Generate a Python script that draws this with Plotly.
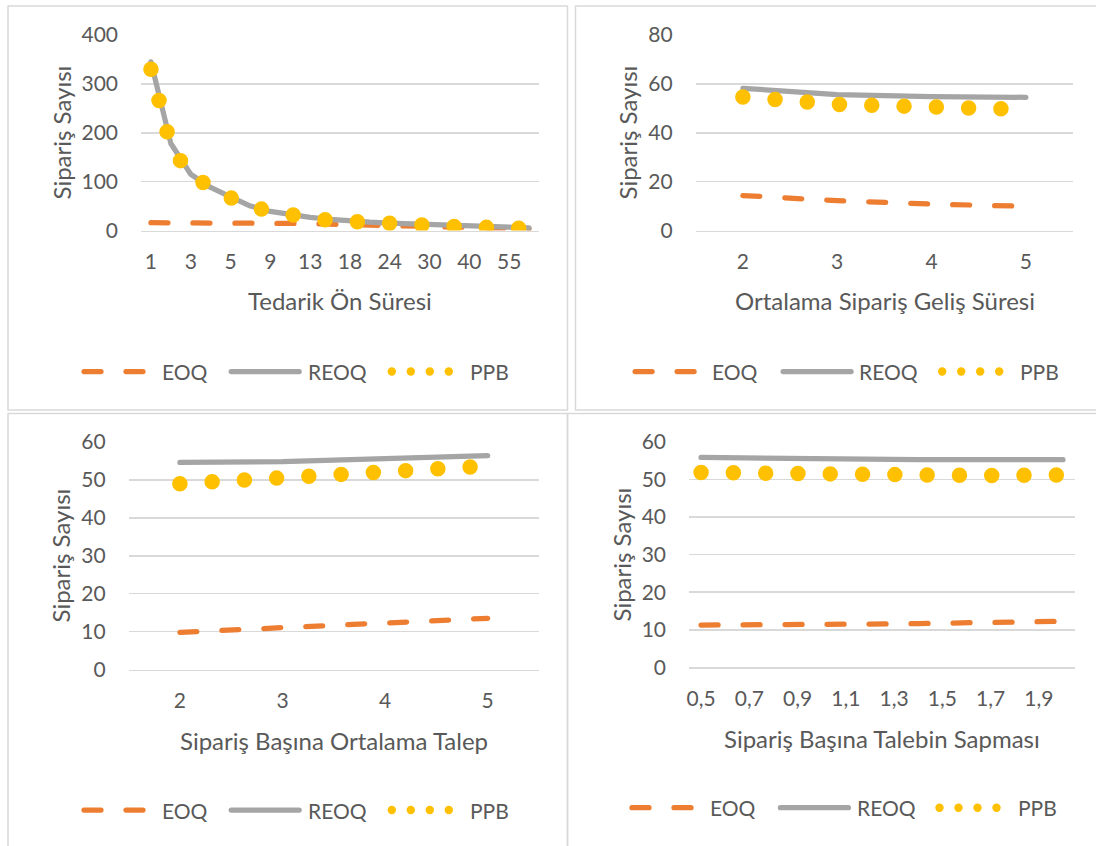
import plotly.graph_objects as go

W, H = 1096, 846

# ---------------- data ----------------
# Panel 1: Tedarik Ön Süresi
lead_time = ["1", "2", "3", "4", "5", "7", "9", "11", "13", "15", "18", "21",
             "24", "27", "30", "35", "40", "45", "55", "60"]
lead_ticks = ["1", "3", "5", "9", "13", "18", "24", "30", "40", "55"]
eoq_1 = [16, 16, 16, 16, 16, 16, 15.8, 15.2, 14.2, 13, 12, 10.5, 9.5, 8.5,
         7.5, 6.5, 5.5, 5, 4, 3.5]
reoq_1 = [345, 178, 115, 88, 69, 50, 39, 32, 27, 23, 19, 17, 15, 13.5, 12,
          10, 9, 8, 6.5, 5.5]
ppb_1 = [330, 172, 112, 85, 67, 48, 38, 30, 25, 21, 17.5, 15, 13.5, 12, 10.5,
         8.5, 7.5, 6.5, 5, 4]

# Panel 2: Ortalama Sipariş Geliş Süresi
arrival = ["2", "3", "4", "5"]
eoq_2 = [14.3, 12.2, 10.8, 9.9]
reoq_2 = [58.2, 55.6, 54.8, 54.5]
ppb_2 = [54.6, 51.6, 50.6, 49.5]

# Panel 3: Sipariş Başına Ortalama Talep
demand = ["2", "3", "4", "5"]
eoq_3 = [9.8, 11.0, 12.3, 13.5]
reoq_3 = [54.6, 54.8, 55.6, 56.4]
ppb_3 = [49.0, 50.6, 52.2, 53.7]

# Panel 4: Sipariş Başına Talebin Sapması
deviation = ["0,5", "0,6", "0,7", "0,8", "0,9", "1", "1,1", "1,2", "1,3",
             "1,4", "1,5", "1,6", "1,7", "1,8", "1,9", "2"]
dev_ticks = ["0,5", "0,7", "0,9", "1,1", "1,3", "1,5", "1,7", "1,9"]
eoq_4 = [11.25, 11.25, 11.25, 11.25, 11.3, 11.35, 11.4, 11.5, 11.55, 11.65,
         11.75, 11.85, 11.95, 12.05, 12.15, 12.25]
reoq_4 = [55.9, 55.8, 55.7, 55.6, 55.5, 55.4, 55.35, 55.3, 55.3, 55.3, 55.3,
          55.3, 55.3, 55.3, 55.3, 55.3]
ppb_4 = [51.9, 51.75, 51.55, 51.4, 51.3, 51.3, 51.25, 51.2, 51.15, 51.15,
         51.15, 51.1, 51.1, 51.15, 51.2, 51.2]

series_names = ["EOQ", "REOQ", "PPB"]
y_title = "Sipariş Sayısı"
x_titles = ["Tedarik Ön Süresi", "Ortalama Sipariş Geliş Süresi",
            "Sipariş Başına Ortalama Talep", "Sipariş Başına Talebin Sapması"]

# ---------------- style ----------------
FONT = "Lato, 'Open Sans', sans-serif"
TXT = "#595959"
GRID = "#D9D9D9"
C_EOQ, C_REOQ, C_PPB = "#ED7D31", "#A5A5A5", "#FFC000"
LW = 5.25
EOQ_DASH = "17px,25px"
PPB_W = 15.5
PPB_DASH = "0px,32.3px"
TICK_SIZE = 21


def px(x):
    return x / W


def py(y):
    return 1 - y / H


# plot areas in pixels: (x0, x1, ytop, ybottom)
panels = [
    dict(x0=141, x1=539, yt=35, yb=230.5, cats=lead_time, ticks=lead_ticks,
         data=(eoq_1, reoq_1, ppb_1), ymax=400, dtick=100),
    dict(x0=695.7, x1=1073, yt=35, yb=230.5, cats=arrival, ticks=arrival,
         data=(eoq_2, reoq_2, ppb_2), ymax=80, dtick=20),
    dict(x0=128.6, x1=539, yt=442, yb=669.5, cats=demand, ticks=demand,
         data=(eoq_3, reoq_3, ppb_3), ymax=60, dtick=10),
    dict(x0=689, x1=1075, yt=442, yb=667.3, cats=deviation, ticks=dev_ticks,
         data=(eoq_4, reoq_4, ppb_4), ymax=60, dtick=10),
]

fig = go.Figure()
layout = dict(
    width=W, height=H, margin=dict(l=0, r=0, t=0, b=0, autoexpand=False),
    paper_bgcolor="white", plot_bgcolor="white",
    showlegend=False, font=dict(family=FONT, color=TXT),
)

for i, p in enumerate(panels):
    k = "" if i == 0 else str(i + 1)
    xa, ya = "x" + k, "y" + k
    eoq, reoq, ppb = p["data"]
    fig.add_trace(go.Scatter(x=p["cats"], y=eoq, name="EOQ", mode="lines",
                             line=dict(color=C_EOQ, width=LW, dash=EOQ_DASH),
                             xaxis=xa, yaxis=ya, hoverinfo="skip"))
    fig.add_trace(go.Scatter(x=p["cats"], y=reoq, name="REOQ", mode="lines",
                             line=dict(color=C_REOQ, width=LW),
                             xaxis=xa, yaxis=ya, hoverinfo="skip"))
    fig.add_trace(go.Scatter(x=p["cats"], y=ppb, name="PPB", mode="lines",
                             line=dict(color=C_PPB, width=PPB_W, dash=PPB_DASH),
                             xaxis=xa, yaxis=ya, hoverinfo="skip"))
    layout["xaxis" + k] = dict(
        domain=[px(p["x0"]), px(p["x1"])], anchor=ya, type="category",
        categoryorder="array", categoryarray=p["cats"],
        range=[-0.5, len(p["cats"]) - 0.5], automargin=False,
        tickmode="array", tickvals=p["ticks"], ticktext=p["ticks"],
        showgrid=False, showline=True, linecolor=GRID, linewidth=1.5,
        ticks="", tickfont=dict(size=TICK_SIZE, color=TXT, family=FONT),
        ticklabelstandoff=12, zeroline=False, fixedrange=True,
    )
    layout["yaxis" + k] = dict(
        domain=[py(p["yb"]), py(p["yt"])], anchor=xa, automargin=False,
        range=[0, p["ymax"]], dtick=p["dtick"], tick0=0,
        showgrid=True, gridcolor=GRID, gridwidth=1.5, zeroline=False,
        showline=False, ticks="", tickfont=dict(size=TICK_SIZE, color=TXT, family=FONT),
        ticklabelstandoff=22, fixedrange=True,
    )

# ---------------- panel frames ----------------
shapes = []
frames = [(8, 567.5, 6, 410), (575.5, 1110, 6, 410),
          (8, 567.5, 413.5, 870), (567.5, 1110, 413.5, 870)]
for (x0, x1, y0, y1) in frames:
    shapes.append(dict(type="rect", xref="paper", yref="paper",
                       x0=px(x0), x1=px(x1), y0=py(y1), y1=py(y0),
                       line=dict(color=GRID, width=1.5), fillcolor="rgba(0,0,0,0)",
                       layer="below"))

# ---------------- titles ----------------
annotations = []
xt_pos = [(339.5, 300), (884.5, 300), (333.8, 740), (881.7, 738.5)]
yt_pos = [(61, 132.5), (627, 132.5), (60, 555.5), (621, 554.5)]
for (cx, cy), t in zip(xt_pos, x_titles):
    annotations.append(dict(text=t, x=px(cx), y=py(cy), xref="paper", yref="paper",
                            showarrow=False, xanchor="center", yanchor="middle",
                            font=dict(size=24, color=TXT, family=FONT)))
for (cx, cy) in yt_pos:
    annotations.append(dict(text=y_title, x=px(cx), y=py(cy), xref="paper", yref="paper",
                            showarrow=False, xanchor="center", yanchor="middle",
                            textangle=-90, font=dict(size=24, color=TXT, family=FONT)))

# ---------------- legends (one per panel) ----------------
# (eoq_start, eoq_text, reoq_start, reoq_text, ppb_start, ppb_text, y)
legends = [
    (81.4, 159.6, 228.6, 306.4, 391.8, 467.9, 371.5),
    (632.5, 710.4, 780.5, 857.4, 942.2, 1018.0, 371.5),
    (81.4, 159.6, 228.6, 306.4, 391.8, 467.9, 810.0),
    (629.4, 707.7, 777.8, 854.7, 939.5, 1015.7, 807.7),
]
for (e0, et, r0, rt, p0, pt, ly) in legends:
    shapes.append(dict(type="line", xref="paper", yref="paper",
                       x0=px(e0 + 2.6), x1=px(e0 + 62.4), y0=py(ly), y1=py(ly),
                       line=dict(color=C_EOQ, width=LW, dash=EOQ_DASH), layer="above"))
    shapes.append(dict(type="line", xref="paper", yref="paper",
                       x0=px(r0 + 2.6), x1=px(r0 + 70.6), y0=py(ly), y1=py(ly),
                       line=dict(color=C_REOQ, width=LW), layer="above"))
    for j in range(4):
        cx = p0 + j * 19.0
        shapes.append(dict(type="circle", xref="paper", yref="paper",
                           x0=px(cx - 4.2), x1=px(cx + 4.2), y0=py(ly + 4.2), y1=py(ly - 4.2),
                           line=dict(width=0), fillcolor=C_PPB, layer="above"))
    for x0, name in zip((et, rt, pt), series_names):
        annotations.append(dict(text=name, x=px(x0), y=py(ly), xref="paper", yref="paper",
                                showarrow=False, xanchor="left", yanchor="middle",
                                font=dict(size=21, color=TXT, family=FONT)))

layout["shapes"] = shapes
layout["annotations"] = annotations
fig.update_layout(**layout)

post = """
document.documentElement.style.margin = '0';
document.documentElement.style.padding = '0';
document.documentElement.style.overflow = 'hidden';
document.body.style.margin = '0';
document.body.style.padding = '0';
document.body.style.overflow = 'hidden';
var gd = document.getElementById('{plot_id}');
gd.querySelectorAll('.scatterlayer path.js-line, .shapelayer path').forEach(function(p){
  p.style.strokeLinecap = 'round';
  p.style.strokeLinejoin = 'round';
});
"""

fig.write_html("out.html", include_plotlyjs=True, full_html=True,
               config={"displayModeBar": False, "staticPlot": True},
               post_script=post)
